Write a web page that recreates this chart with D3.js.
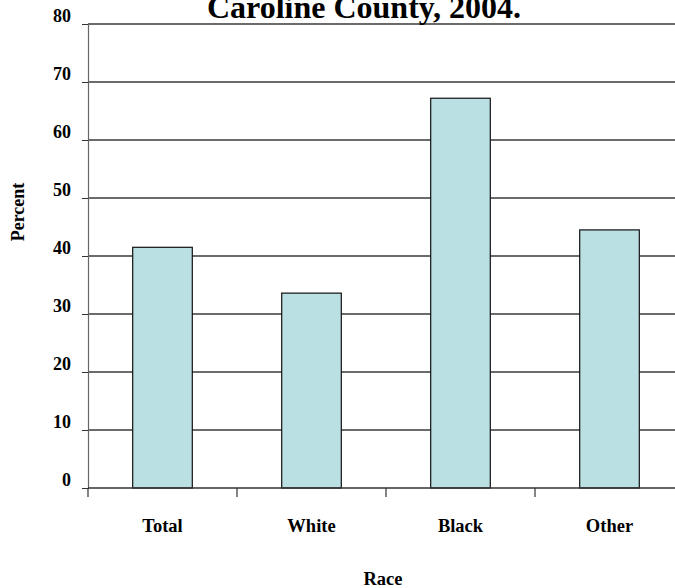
<!DOCTYPE html>
<html><head><meta charset="utf-8">
<script src="https://cdn.jsdelivr.net/npm/d3@7"></script>
<style>body{margin:0;background:#fff}svg{display:block}text{font-family:"Liberation Serif","Times New Roman",serif;font-weight:bold;fill:#000}</style>
</head><body>
<script>
const categories = ["Total","White","Black","Other"];
const values = [41.5, 33.6, 67.2, 44.5];
const yTicks = [0,10,20,30,40,50,60,70,80];
const title = "Caroline County, 2004.";
const xTitle = "Race";
const yTitle = "Percent";

const W = 675, H = 588;
const mLeft = 88, mRight = 684, mTop = 24, mBottom = 488;
const svg = d3.select("body").append("svg").attr("width", W).attr("height", H);

const x = d3.scaleBand().domain(categories).range([mLeft, mRight]).paddingInner(0.6).paddingOuter(0.3);
const xb = d3.scaleBand().domain(categories).range([mLeft, mRight]);
const y = d3.scaleLinear().domain([0, 80]).range([mBottom, mTop]);

// gridlines
svg.append("g").selectAll("line").data(yTicks.filter(d => d > 0)).join("line")
  .attr("x1", mLeft).attr("x2", mRight).attr("y1", d => y(d)).attr("y2", d => y(d))
  .attr("stroke", "#3a3a3a").attr("stroke-width", 1.3);

// y axis
const yAxis = d3.axisLeft(y).tickValues(yTicks).tickSize(6).tickPadding(11).tickFormat(d3.format("d"));
const gy = svg.append("g").attr("transform", `translate(${mLeft},0)`).call(yAxis);
gy.select(".domain").attr("stroke", "#666").attr("stroke-width", 1.2);
gy.selectAll(".tick line").attr("stroke", "#333");
gy.selectAll(".tick text").attr("font-size", 18).attr("dy", "-0.12em").attr("font-family", "Liberation Serif");

// bars
svg.append("g").selectAll("rect").data(values).join("rect")
  .attr("x", (d, i) => x(categories[i]))
  .attr("width", x.bandwidth())
  .attr("y", d => y(d))
  .attr("height", d => y(0) - y(d))
  .attr("fill", "#bbe0e3").attr("stroke", "#111").attr("stroke-width", 1.2);

// x axis
const xAxis = d3.axisBottom(xb).tickSize(0).tickPadding(0).tickFormat("");
const gx = svg.append("g").attr("transform", `translate(0,${mBottom})`).call(xAxis);
gx.select(".domain").remove();
gx.append("line").attr("x1", mLeft).attr("x2", mRight).attr("stroke", "#333").attr("stroke-width", 1.3);
const edges = categories.map(c => xb(c)).concat([mRight]);
gx.selectAll(".edge").data(edges).join("line").attr("class","edge")
  .attr("x1", d => d).attr("x2", d => d).attr("y1", 0).attr("y2", 9)
  .attr("stroke", "#333").attr("stroke-width", 1.2);
gx.selectAll(".lab").data(categories).join("text").attr("class","lab")
  .attr("x", d => xb(d) + xb.bandwidth()/2).attr("y", 44)
  .attr("text-anchor", "middle").attr("font-size", 18.5).text(d => d);

// titles
svg.append("text").attr("x", 364).attr("y", 18).attr("text-anchor", "middle")
  .attr("font-size", 32).text(title);
svg.append("text").attr("x", 383).attr("y", 585).attr("text-anchor", "middle")
  .attr("font-size", 18.5).text(xTitle);
svg.append("text").attr("transform", "translate(24,212) rotate(-90)").attr("text-anchor", "middle")
  .attr("font-size", 18).text(yTitle);
</script>
</body></html>
